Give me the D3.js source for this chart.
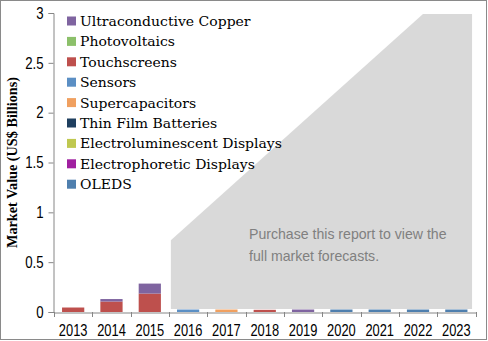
<!DOCTYPE html>
<html><head><meta charset="utf-8">
<script src="https://cdn.jsdelivr.net/npm/d3@7"></script>
<style>body{margin:0;background:#fff} svg{display:block}</style>
</head><body><svg id="c" width="488" height="341"></svg>
<script>
// ---- data ----
const years = ["2013","2014","2015","2016","2017","2018","2019","2020","2021","2022","2023"];
// stack order bottom -> top
const seriesNames = ["OLEDS","Electrophoretic Displays","Electroluminescent Displays","Thin Film Batteries","Supercapacitors","Sensors","Touchscreens","Photovoltaics","Ultraconductive Copper"];
const seriesColors = ["#4f7fae","#a020a0","#bfc850","#1f3f5f","#f0a060","#5b8fc4","#be504d","#8cc06a","#7f64a0"];
const OLEDS        = [0,0,0,0,0,0,0,0.025,0.025,0.025,0.025];
const electrophor  = [0,0,0,0,0,0,0,0,0,0,0];
const electrolum   = [0,0,0,0,0,0,0,0,0,0,0];
const thinFilm     = [0,0,0,0,0,0,0,0,0,0,0];
const supercaps    = [0,0,0,0,0.025,0,0,0,0,0,0];
const sensors      = [0,0,0,0.025,0,0,0,0,0,0,0];
const touchscreens = [0.045,0.105,0.185,0,0,0.022,0,0,0,0,0];
const photovolt    = [0,0,0,0,0,0,0,0,0,0,0];
const copper       = [0,0.025,0.1,0,0,0,0.025,0,0,0,0];
const seriesValues = [OLEDS,electrophor,electrolum,thinFilm,supercaps,sensors,touchscreens,photovolt,copper];
const yTicks = [0,0.5,1,1.5,2,2.5,3];
const yTitle = "Market Value (US$ Billions)";
// forecast mask outline in (band position, value)
const maskPos   = [3.05,3.05,9.63,10.91,10.91];
const maskValue = [0.03,0.72,2.99,2.99,0.03];
const maskText = ["Purchase this report to view the","full market forecasts."];

// ---- layout ----
const svg = d3.select("#c");
const W = 488, H = 341;
const m = {l:54, r:12.5, t:13, b:29};
const x = d3.scaleBand().domain(years).range([m.l, W - m.r]).paddingInner(0.42).paddingOuter(0.21);
const xb = d3.scaleBand().domain(years).range([m.l, W - m.r]);
const xPos = d3.scaleLinear().domain([0, years.length]).range([m.l, W - m.r]);
const y = d3.scaleLinear().domain([0,3]).range([H - m.b, m.t]);

// horizontally rescale text glyphs by a factor
function stretch(sel, f){
  sel.each(function(){
    const w = this.getComputedTextLength();
    d3.select(this).attr("textLength", w*f).attr("lengthAdjust","spacingAndGlyphs");
  });
}

const rows = years.map((yr,i)=>{const o={year:yr}; seriesNames.forEach((s,j)=>o[s]=seriesValues[j][i]); return o;});
const stack = d3.stack().keys(seriesNames)(rows);

// frame
svg.append("rect").attr("x",0.5).attr("y",0.5).attr("width",W-2).attr("height",H-2)
  .attr("fill","#fff").attr("stroke","#8a8a8a");

// bars
svg.append("g").selectAll("g").data(stack).join("g")
  .attr("fill",(d,i)=>seriesColors[i])
  .selectAll("rect").data(d=>d).join("rect")
  .attr("x",d=>x(d.data.year)).attr("width",x.bandwidth())
  .attr("y",d=>y(d[1])).attr("height",d=>y(d[0])-y(d[1]));

// mask
const maskPts = maskPos.map((p,i)=>[xPos(p), y(maskValue[i])]);
svg.append("path").attr("d", d3.line()(maskPts)+"Z").attr("fill","#d9d9d9");
svg.append("g").selectAll("text").data(maskText).join("text")
  .attr("x", 249).attr("y",(d,i)=>239 + i*21.5)
  .attr("font-family","'Liberation Sans',Arial,sans-serif")
  .attr("font-size",15).attr("fill","#808080").text(d=>d)
  .call(stretch, 0.94);

// y axis
const ya = svg.append("g").attr("transform",`translate(${m.l-0.5},0)`)
  .call(d3.axisLeft(y).tickValues(yTicks).tickSize(5).tickPadding(5).tickFormat(d3.format("")));
ya.select(".domain").attr("stroke","#868686");
ya.selectAll(".tick line").attr("stroke","#868686");
ya.selectAll("text").attr("font-family","'Liberation Sans',sans-serif")
  .attr("font-size",16.5).attr("fill","#000").call(stretch, 0.8);

// x axis
const xa = svg.append("g").attr("transform",`translate(0,${y(0)+0.5})`)
  .call(d3.axisBottom(xb).tickSize(0).tickPadding(12));
xa.select(".domain").attr("stroke","#868686");
xa.selectAll("text").attr("font-family","'Liberation Sans',sans-serif")
  .attr("font-size",16.5).attr("fill","#000").call(stretch, 0.78);
svg.append("g").selectAll("line").data(d3.range(years.length+1)).join("line")
  .attr("x1",d=>Math.round(xPos(d))+0.5).attr("x2",d=>Math.round(xPos(d))+0.5)
  .attr("y1",y(0)).attr("y2",y(0)+5).attr("stroke","#868686");

// y title
svg.append("text").attr("transform",`translate(16.5,${(m.t + H - m.b)/2}) rotate(-90)`)
  .attr("text-anchor","middle").attr("font-family","'Liberation Serif',serif")
  .attr("font-weight","bold").attr("font-size",14).text(yTitle)
  .attr("textLength",171).attr("lengthAdjust","spacingAndGlyphs");

// legend (top item = top of stack)
const legendItems = seriesNames.map((n,i)=>({n, c:seriesColors[i]})).reverse();
const lg = svg.append("g").selectAll("g").data(legendItems).join("g")
  .attr("transform",(d,i)=>`translate(67,${21 + i*20.4})`);
lg.append("rect").attr("x",0).attr("y",-4.5).attr("width",9).attr("height",9).attr("fill",d=>d.c);
lg.append("text").attr("x",13).attr("y",5).attr("font-family","'DejaVu Serif',serif")
  .attr("font-size",13).attr("fill","#000").text(d=>d.n)
  .call(stretch, 1.075);
</script></body></html>
